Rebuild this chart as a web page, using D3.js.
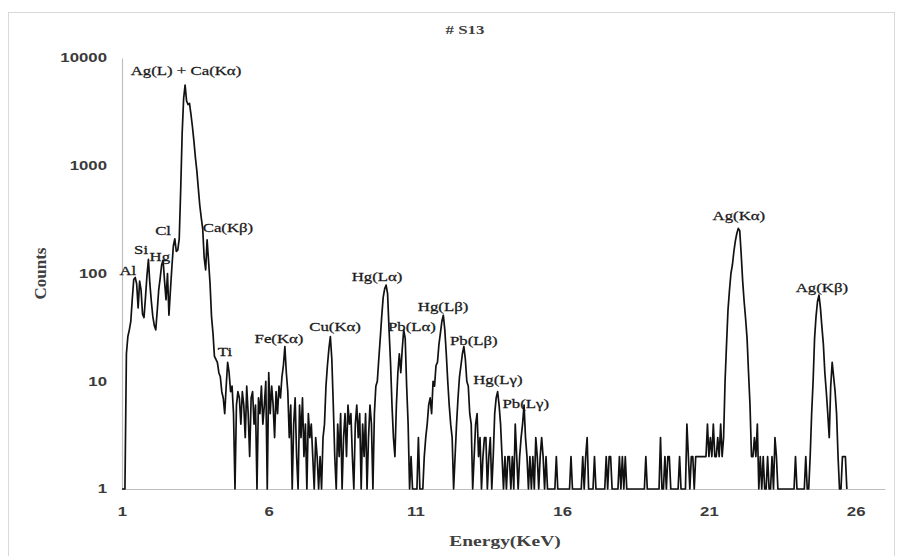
<!DOCTYPE html>
<html>
<head>
<meta charset="utf-8">
<script src="https://cdn.jsdelivr.net/npm/d3@7/dist/d3.min.js"></script>
<style>
  body { margin: 0; background: #fff; }
  svg { display: block; font-family: "Liberation Serif", "DejaVu Serif", serif; }
  .tick text { fill: #3a3a3a; font-size: 12px; font-weight: bold; }
  .os path { stroke: #bfbfbf; stroke-width: 1.2; }
  .oznaka { fill: #1a1a1a; font-size: 12px; stroke: #1a1a1a; stroke-width: 0.25; }
</style>
</head>
<body>
<div id="okvir"></div>
<script>
// spectrum: first channel energy and channel width (keV)
const energyStart = 1.0;
const channelWidth = 0.05;

// counts per channel, one line per keV (1.00 ... 25.70)
const counts = [
  1, 1, 1, 18, 26, 30, 36, 58, 88, 92, 80, 48, 85, 70, 42, 39, 60, 95, 135, 80,
  55, 40, 33, 30, 45, 70, 90, 120, 133, 85, 57, 100, 41, 70, 115, 180, 210, 160, 165, 210,
  600, 2000, 4200, 5600, 4000, 3700, 3800, 3000, 2300, 1700, 1200, 900, 620, 430, 330, 260, 140, 108, 205, 130,
  81, 40, 28, 17, 16, 15, 12, 11, 8, 7, 5, 9, 15, 12, 8, 9, 5, 1, 6, 8,
  7, 4, 8, 6, 3, 9, 5, 2, 7, 8, 4, 6, 1, 7, 5, 9, 4, 6, 10, 1,
  12, 5, 9, 6, 3, 8, 5, 9, 7, 11, 14, 21, 12, 8, 3, 6, 1, 4, 7, 2,
  1, 6, 3, 7, 2, 4, 1, 5, 3, 4, 2, 1, 3, 2, 1, 2, 1, 3, 4, 9,
  14, 20, 26, 16, 6, 2, 1, 4, 2, 5, 1, 3, 5, 2, 6, 4, 5, 2, 1, 4,
  6, 3, 5, 1, 4, 2, 5, 1, 3, 6, 4, 1, 5, 9, 10, 16, 25, 40, 60, 72,
  78, 65, 30, 15, 6, 3, 2, 6, 12, 18, 12, 20, 30, 25, 9, 4, 1, 2, 1, 1,
  1, 1, 3, 1, 1, 1, 2, 3, 4, 6, 7, 5, 10, 9, 14, 15, 22, 28, 36, 41,
  30, 18, 10, 6, 4, 3, 1, 2, 4, 7, 11, 14, 18, 21, 16, 10, 9, 5, 4, 1,
  2, 4, 5, 2, 3, 1, 2, 3, 3, 1, 2, 3, 1, 2, 5, 7, 8, 6, 4, 2,
  1, 2, 1, 2, 2, 1, 2, 1, 4, 2, 1, 2, 3, 4, 6, 3, 2, 1, 2, 1,
  2, 1, 3, 2, 1, 2, 3, 2, 1, 2, 1, 1, 1, 1, 1, 1, 2, 1, 1, 1,
  1, 1, 1, 1, 1, 1, 2, 1, 1, 1, 1, 1, 1, 1, 2, 1, 2, 3, 1, 1,
  1, 1, 2, 1, 1, 1, 1, 1, 1, 1, 2, 1, 2, 2, 1, 1, 1, 1, 1, 2,
  1, 2, 1, 2, 1, 1, 1, 1, 1, 1, 1, 1, 1, 1, 1, 1, 1, 2, 1, 1,
  1, 1, 1, 1, 1, 1, 1, 3, 1, 1, 2, 1, 2, 2, 1, 1, 1, 1, 1, 1,
  2, 1, 1, 1, 1, 4, 2, 1, 2, 2, 1, 2, 2, 2, 2, 2, 2, 2, 2, 4,
  2, 3, 2, 4, 2, 2, 3, 2, 4, 2, 3, 10, 22, 46, 70, 100, 120, 160, 200, 235,
  262, 250, 150, 85, 55, 38, 25, 12, 6, 2, 2, 3, 2, 4, 1, 2, 1, 2, 1, 1,
  2, 1, 1, 2, 1, 3, 2, 1, 1, 1, 1, 1, 1, 1, 1, 1, 1, 1, 1, 2,
  1, 1, 1, 1, 1, 1, 2, 1, 1, 2, 5, 10, 25, 40, 55, 63, 48, 32, 22, 12,
  8, 5, 3, 9, 15, 11, 8, 5, 2, 1, 1, 2, 2, 2, 1
];

const xTicks = [1, 6, 11, 16, 21, 26];
const yTicks = [1, 10, 100, 1000, 10000];

// peak labels: text, energy (keV) and count level where the label sits
const peakNames = ["Ag(L) + Ca(Kα)", "Al", "Si", "Hg", "Cl", "Ca(Kβ)", "Ti", "Fe(Kα)", "Cu(Kα)",
  "Hg(Lα)", "Pb(Lα)", "Hg(Lβ)", "Pb(Lβ)", "Hg(Lγ)", "Pb(Lγ)", "Ag(Kα)", "Ag(Kβ)"];
const peakEnergies = [3.18, 1.2, 1.65, 2.29, 2.4, 4.61, 4.51, 6.35, 8.26,
  9.69, 10.88, 11.94, 12.99, 13.81, 14.76, 22.02, 24.85];
const peakLevels = [7400, 103, 162, 139, 243, 259, 18.3, 24, 31,
  91, 31, 48, 23, 10, 6, 334, 72];

// the source picture is stretched sideways, text too
const razvuci = 1.4;

const crtaj = () => {
  const podatci = counts.map((c, i) => ({ energija: energyStart + i * channelWidth, broj: c }));
  const xAccessor = d => d.energija;
  const yAccessor = d => d.broj;

  const dimenzije = {
    width: 898,
    height: 556,
    margin: { top: 58, right: 13, bottom: 67, left: 122 }
  };
  dimenzije.boundsWidth = dimenzije.width - dimenzije.margin.left - dimenzije.margin.right;
  dimenzije.boundsHeight = dimenzije.height - dimenzije.margin.top - dimenzije.margin.bottom;

  const okvir = d3.select("#okvir")
    .append("svg")
      .attr("width", dimenzije.width)
      .attr("height", dimenzije.height);

  // chart frame
  okvir.append("rect")
    .attr("x", 8.5).attr("y", 12.5)
    .attr("width", 886).attr("height", 560)
    .attr("fill", "none")
    .attr("stroke", "#d9d9d9");

  const granice = okvir.append("g")
    .attr("transform", `translate(${dimenzije.margin.left},${dimenzije.margin.top})`);

  const xMjerilo = d3.scaleLinear()
    .domain([1, 27])
    .range([0, dimenzije.boundsWidth]);

  const yMjerilo = d3.scaleLog()
    .domain([1, 10000])
    .range([dimenzije.boundsHeight, 0]);

  const xOs = granice.append("g")
    .attr("class", "os")
    .attr("transform", `translate(0,${dimenzije.boundsHeight})`)
    .call(d3.axisBottom(xMjerilo).tickValues(xTicks).tickSize(0).tickPadding(18).tickFormat(d3.format("d")));
  xOs.selectAll(".tick text").attr("transform", `scale(${razvuci},1)`);

  const yOs = granice.append("g")
    .attr("class", "os")
    .call(d3.axisLeft(yMjerilo).tickValues(yTicks).tickSize(0).tickFormat(d3.format("d")));
  yOs.selectAll(".tick text")
    .attr("x", -15 / razvuci)
    .attr("transform", `scale(${razvuci},1)`);

  const generatorLinije = d3.line()
    .x(d => xMjerilo(xAccessor(d)))
    .y(d => yMjerilo(yAccessor(d)));

  granice.append("path")
    .attr("d", generatorLinije(podatci))
    .attr("fill", "none")
    .attr("stroke", "#111")
    .attr("stroke-width", 1.7)
    .attr("stroke-linejoin", "round");

  granice.selectAll(".oznaka")
    .data(peakNames)
    .join("text")
      .attr("class", "oznaka")
      .attr("transform", (d, i) =>
        `translate(${xMjerilo(peakEnergies[i])},${yMjerilo(peakLevels[i])}) scale(${razvuci},1)`)
      .attr("text-anchor", "middle")
      .attr("dominant-baseline", "middle")
      .text(d => d);

  // titles
  okvir.append("text")
    .attr("transform", `translate(465,34) scale(1.3,1)`)
    .attr("text-anchor", "middle")
    .style("font-size", "13px").style("font-weight", "bold").style("fill", "#404040")
    .text("# S13");

  okvir.append("text")
    .attr("transform", `translate(46,${dimenzije.margin.top + dimenzije.boundsHeight / 2}) rotate(-90)`)
    .attr("text-anchor", "middle")
    .style("font-size", "17px").style("font-weight", "bold").style("fill", "#404040")
    .text("Counts");

  okvir.append("text")
    .attr("transform", `translate(505,546) scale(1.3,1)`)
    .attr("text-anchor", "middle")
    .style("font-size", "15px").style("font-weight", "bold").style("fill", "#404040")
    .text("Energy(KeV)");
};

crtaj();
</script>
</body>
</html>
